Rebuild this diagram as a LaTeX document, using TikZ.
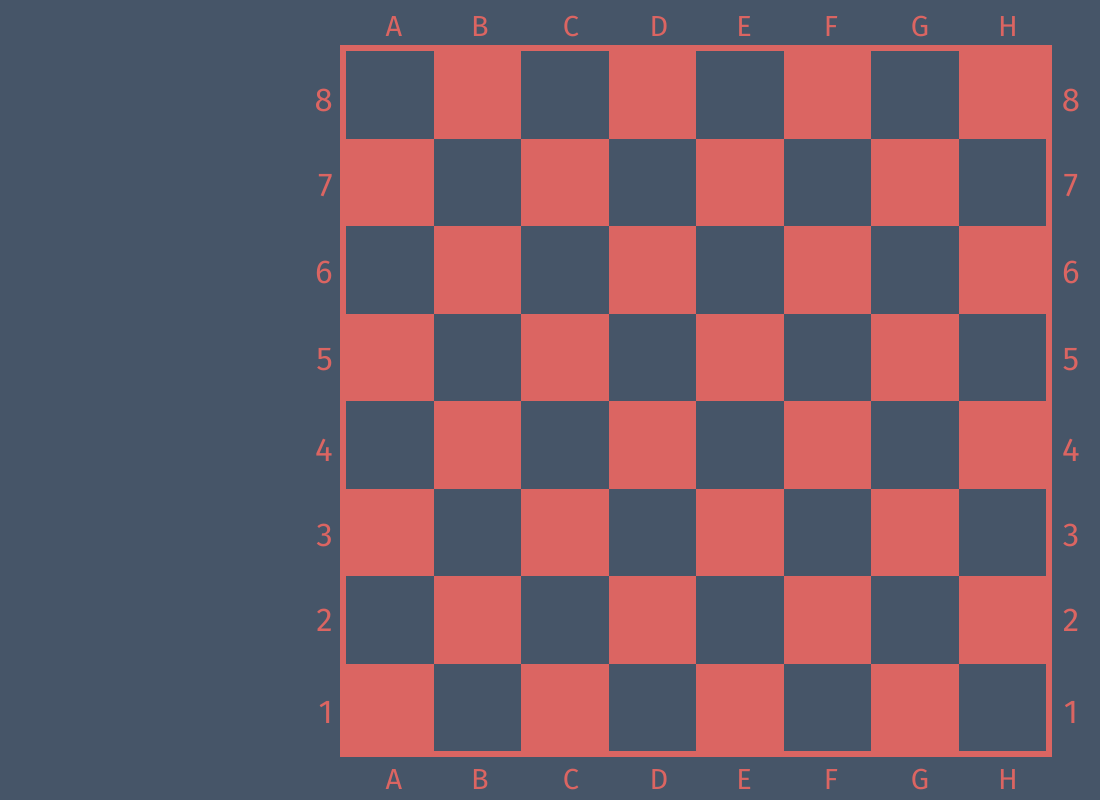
\documentclass[tikz,border=0pt]{standalone}
\usepackage{fontspec}
\setmainfont{Fira Sans}
\definecolor{bg}{RGB}{70,85,104}
\definecolor{rd}{RGB}{219,101,98}
\begin{document}
\begin{tikzpicture}[x=1pt,y=-1pt,
  lbl/.style={text=rd,inner sep=0pt,font=\fontsize{29}{34}\selectfont},
  num/.style={text=rd,inner sep=0pt,font=\fontsize{33}{38}\selectfont}]
\useasboundingbox[fill=bg] (0,0) rectangle (1100,800);
\fill[rd] (340,45) rectangle (1052,757);
\foreach \i in {0,...,7}{
  \foreach \j in {0,...,7}{
    \pgfmathtruncatemacro{\p}{mod(\i+\j,2)}
    \ifnum\p=0
      \fill[bg] ({346+87.5*\i},{51+87.5*\j}) rectangle ({346+87.5*(\i+1)},{51+87.5*(\j+1)});
    \fi
  }
}
\foreach \l/\x in {A/394,B/480,C/571,D/659,E/744,F/831,G/920,H/1008}{
  \node[lbl,anchor=base] (top\l) at (\x,37) {\l};
  \node[lbl,anchor=base] (bot\l) at (\x,789) {\l};
}
\foreach \n/\y in {8/111,7/196,6/283,5/370,4/461,3/546,2/631,1/723}{
  \node[num,anchor=base east] (left\n) at (333,\y) {\n};
  \node[num,anchor=base] (right\n) at (1071,\y) {\n};
}
\end{tikzpicture}
\end{document}
